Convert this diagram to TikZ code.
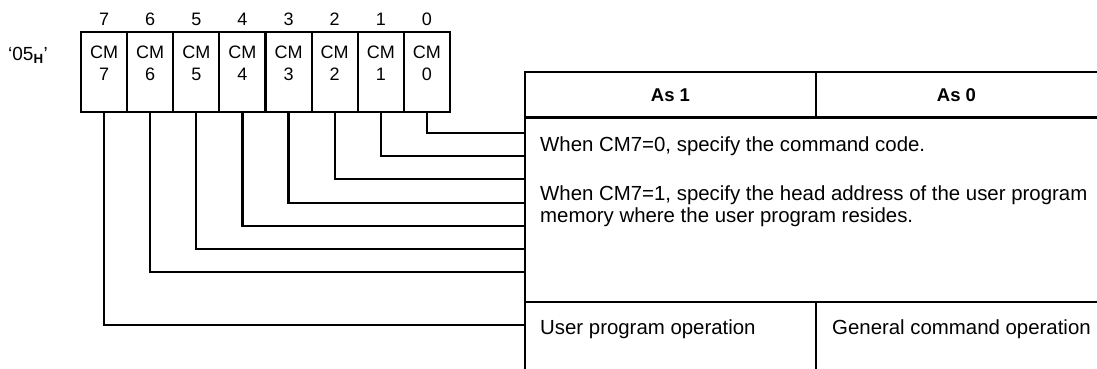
\documentclass[tikz,border=0pt]{standalone}
\usepackage{fontspec}
\setmainfont{Liberation Sans}
\begin{document}
\begin{tikzpicture}[x=1pt,y=-1pt,
  rule/.style={line width=2.2pt},
  cellbox/.style={draw, line width=2.2pt, minimum width=46.125pt, minimum height=80pt, inner sep=0pt, outer sep=0pt},
  celltext/.style={align=center, inner sep=0pt, anchor=north, font=\fontsize{18}{22}\selectfont},
  bitnum/.style={inner sep=0pt, anchor=base, font=\fontsize{18}{20}\selectfont},
  body/.style={anchor=north west, inner sep=0pt, align=left,
    font=\fontsize{20.4}{21.5}\selectfont},
  head/.style={inner sep=0pt, font=\bfseries\fontsize{18.5}{20}\selectfont},
  wire/.style={line width=2.2pt}
]
\useasboundingbox (0,0) rectangle (1097,368);

\node[inner sep=0pt, font=\fontsize{19}{21}\selectfont] (lab) at (28,55) {‘05\textsubscript{\textbf{H}}’};

\foreach \b/\k in {7/0,6/1,5/2,4/3,3/4,2/5,1/6,0/7} {
  \node[cellbox] (cm\b) at ({81+46.125*(\k+0.5)},72) {};
  \node[celltext] (t\b) at ({81+46.125*(\k+0.5)},46) {CM\\\b};
  \node[bitnum] (n\b) at ({81+46.125*(\k+0.5)},25) {\b};
}

\foreach \b/\yy in {0/133,1/156,2/179,3/203,4/226,5/249,6/272,7/325} {
  \coordinate (e\b) at (525,\yy);
  \draw[wire] (cm\b.south) |- (e\b);
}

% table
\draw[rule] (525,369) -- (525,72) -- (1098,72);
\draw[rule] (816,72) -- (816,117);
\draw[line width=3pt] (525,117) -- (1098,117);
\draw[rule] (525,302) -- (1098,302);
\draw[rule] (816,302) -- (816,369);

\node[head] (h1) at (670.5,95) {As 1};
\node[head] (h0) at (956.5,95) {As 0};

\node[body] (d0) at (540,137) {When CM7=0, specify the command code.};
\node[body] (d1) at (540,186) {When CM7=1, specify the head address of the user program\\memory where the user program resides.};
\node[body] (u1) at (540,320) {User program operation};
\node[body] (u0) at (832,320) {General command operation};
\end{tikzpicture}
\end{document}
